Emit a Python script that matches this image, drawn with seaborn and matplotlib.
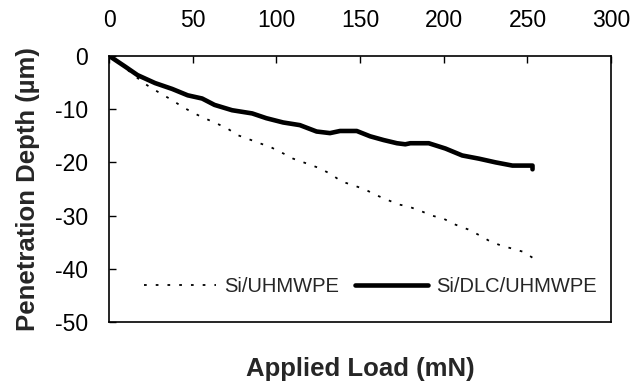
import numpy as np
import pandas as pd
import matplotlib
matplotlib.use("Agg")
import matplotlib.pyplot as plt
import seaborn as sns

# Data
load_dlc = [0, 2, 9.6, 17, 27.5, 37.7, 47, 55.6, 63, 73.5, 85.5, 94, 104, 114, 124, 132,
            138, 148, 156, 164, 172, 177, 180, 191, 201, 211, 221, 231, 241, 253, 253]
depth_dlc = [0, -0.4, -2.0, -3.6, -5.1, -6.2, -7.4, -8.0, -9.2, -10.2, -10.8, -11.7, -12.5, -13.0,
             -14.2, -14.5, -14.1, -14.1, -15.1, -15.8, -16.4, -16.6, -16.4, -16.4, -17.4, -18.7,
             -19.3, -20.0, -20.6, -20.6, -21.3]

load_pe = [0, 8, 15.5, 22.7, 30.5, 37.7, 44, 51, 57, 63, 70.5, 77, 84, 90, 97, 104, 110, 118,
           125, 132, 139, 146, 153, 160, 166, 173, 179, 186, 193, 200, 207, 214.6, 222, 228,
           235, 241, 247.5, 253]
depth_pe = [0, -1.8, -3.8, -5.5, -7.0, -8.3, -9.6, -10.8, -11.7, -12.5, -13.6, -14.9, -15.7,
            -16.4, -17.2, -18.3, -19.3, -20.2, -21.0, -22.1, -23.6, -24.3, -25.1, -26.2, -27.0,
            -27.9, -28.3, -29.1, -30.0, -30.6, -31.7, -32.6, -33.8, -34.9, -35.7, -36.2, -36.8,
            -37.9]

x_ticks = [0, 50, 100, 150, 200, 250, 300]
y_ticks = [0, -10, -20, -30, -40, -50]

sns.set_style("white")
plt.rcParams['font.family'] = ['Liberation Sans', 'DejaVu Sans']

fig = plt.figure(figsize=(6.34, 3.83), dpi=100)
ax = fig.add_axes([0.172, 0.159, 0.792, 0.695])

df_pe = pd.DataFrame({"load": load_pe, "depth": depth_pe})
df_dlc = pd.DataFrame({"load": load_dlc, "depth": depth_dlc})

sns.lineplot(data=df_pe, x="load", y="depth", ax=ax, color="black", lw=1.3,
             linestyle=(0, (1.5, 5)), label="Si/UHMWPE", sort=False, estimator=None)
sns.lineplot(data=df_dlc, x="load", y="depth", ax=ax, color="black", lw=3.3,
             label="Si/DLC/UHMWPE", sort=False, estimator=None)

ax.set_xlim(0, 300)
ax.set_ylim(-50, 0)
ax.set_xticks(x_ticks)
ax.set_yticks(y_ticks)
ax.set_xticklabels([str(v) for v in x_ticks])
ax.set_yticklabels([str(v) for v in y_ticks])

ax.xaxis.tick_top()
ax.xaxis.set_label_position('bottom')
ax.tick_params(axis='x', direction='in', length=5, width=1, top=True, bottom=False,
               labeltop=True, labelbottom=False, labelsize=16.5, pad=17, colors='black')
ax.tick_params(axis='y', direction='in', length=5, width=1, left=True, right=False,
               labelsize=16.5, pad=15, colors='black')

for s in ax.spines.values():
    s.set_visible(True)
    s.set_color('black')
    s.set_linewidth(1.2)

ax.set_xlabel("Applied Load (mN)", fontsize=18.5, fontweight='bold', labelpad=25)
ax.set_ylabel("Penetration Depth (µm)", fontsize=18.5, fontweight='bold', labelpad=11)

ax.legend(ncol=2, frameon=False, loc='center', bbox_to_anchor=(0.52, 0.135),
          fontsize=14.5, handlelength=3.6, handletextpad=0.4, columnspacing=0.8)

fig.savefig("out.png", dpi=100)
